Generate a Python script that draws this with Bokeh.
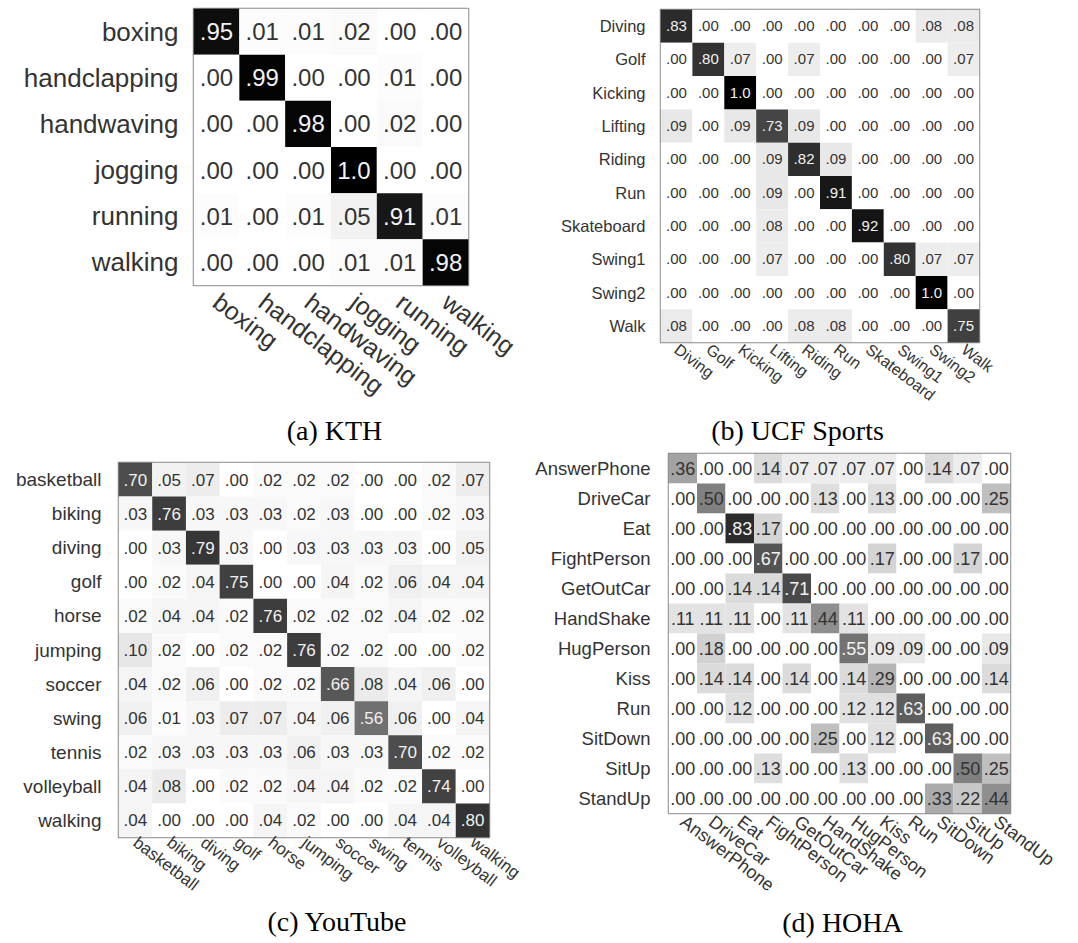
from bokeh.plotting import figure
from bokeh.models import ColumnDataSource, FactorRange, Range1d
from bokeh.layouts import column, row
from bokeh.embed import file_html
from bokeh.resources import INLINE
from bokeh.core.properties import value

# ---------------- data ----------------
kth_labels = ["boxing", "handclapping", "handwaving", "jogging", "running", "walking"]
kth_values = [
    [0.95, 0.01, 0.01, 0.02, 0.00, 0.00],
    [0.00, 0.99, 0.00, 0.00, 0.01, 0.00],
    [0.00, 0.00, 0.98, 0.00, 0.02, 0.00],
    [0.00, 0.00, 0.00, 1.00, 0.00, 0.00],
    [0.01, 0.00, 0.01, 0.05, 0.91, 0.01],
    [0.00, 0.00, 0.00, 0.01, 0.01, 0.98],
]

ucf_labels = ["Diving", "Golf", "Kicking", "Lifting", "Riding", "Run",
              "Skateboard", "Swing1", "Swing2", "Walk"]
ucf_values = [
    [0.83, 0.00, 0.00, 0.00, 0.00, 0.00, 0.00, 0.00, 0.08, 0.08],
    [0.00, 0.80, 0.07, 0.00, 0.07, 0.00, 0.00, 0.00, 0.00, 0.07],
    [0.00, 0.00, 1.00, 0.00, 0.00, 0.00, 0.00, 0.00, 0.00, 0.00],
    [0.09, 0.00, 0.09, 0.73, 0.09, 0.00, 0.00, 0.00, 0.00, 0.00],
    [0.00, 0.00, 0.00, 0.09, 0.82, 0.09, 0.00, 0.00, 0.00, 0.00],
    [0.00, 0.00, 0.00, 0.09, 0.00, 0.91, 0.00, 0.00, 0.00, 0.00],
    [0.00, 0.00, 0.00, 0.08, 0.00, 0.00, 0.92, 0.00, 0.00, 0.00],
    [0.00, 0.00, 0.00, 0.07, 0.00, 0.00, 0.00, 0.80, 0.07, 0.07],
    [0.00, 0.00, 0.00, 0.00, 0.00, 0.00, 0.00, 0.00, 1.00, 0.00],
    [0.08, 0.00, 0.00, 0.00, 0.08, 0.08, 0.00, 0.00, 0.00, 0.75],
]

yt_labels = ["basketball", "biking", "diving", "golf", "horse", "jumping",
             "soccer", "swing", "tennis", "volleyball", "walking"]
yt_values = [
    [0.70, 0.05, 0.07, 0.00, 0.02, 0.02, 0.02, 0.00, 0.00, 0.02, 0.07],
    [0.03, 0.76, 0.03, 0.03, 0.03, 0.02, 0.03, 0.00, 0.00, 0.02, 0.03],
    [0.00, 0.03, 0.79, 0.03, 0.00, 0.03, 0.03, 0.03, 0.03, 0.00, 0.05],
    [0.00, 0.02, 0.04, 0.75, 0.00, 0.00, 0.04, 0.02, 0.06, 0.04, 0.04],
    [0.02, 0.04, 0.04, 0.02, 0.76, 0.02, 0.02, 0.02, 0.04, 0.02, 0.02],
    [0.10, 0.02, 0.00, 0.02, 0.02, 0.76, 0.02, 0.02, 0.00, 0.00, 0.02],
    [0.04, 0.02, 0.06, 0.00, 0.02, 0.02, 0.66, 0.08, 0.04, 0.06, 0.00],
    [0.06, 0.01, 0.03, 0.07, 0.07, 0.04, 0.06, 0.56, 0.06, 0.00, 0.04],
    [0.02, 0.03, 0.03, 0.03, 0.03, 0.06, 0.03, 0.03, 0.70, 0.02, 0.02],
    [0.04, 0.08, 0.00, 0.02, 0.02, 0.04, 0.04, 0.02, 0.02, 0.74, 0.00],
    [0.04, 0.00, 0.00, 0.00, 0.04, 0.02, 0.00, 0.00, 0.04, 0.04, 0.80],
]

hoha_labels = ["AnswerPhone", "DriveCar", "Eat", "FightPerson", "GetOutCar", "HandShake",
               "HugPerson", "Kiss", "Run", "SitDown", "SitUp", "StandUp"]
hoha_values = [
    [0.36, 0.00, 0.00, 0.14, 0.07, 0.07, 0.07, 0.07, 0.00, 0.14, 0.07, 0.00],
    [0.00, 0.50, 0.00, 0.00, 0.00, 0.13, 0.00, 0.13, 0.00, 0.00, 0.00, 0.25],
    [0.00, 0.00, 0.83, 0.17, 0.00, 0.00, 0.00, 0.00, 0.00, 0.00, 0.00, 0.00],
    [0.00, 0.00, 0.00, 0.67, 0.00, 0.00, 0.00, 0.17, 0.00, 0.00, 0.17, 0.00],
    [0.00, 0.00, 0.14, 0.14, 0.71, 0.00, 0.00, 0.00, 0.00, 0.00, 0.00, 0.00],
    [0.11, 0.11, 0.11, 0.00, 0.11, 0.44, 0.11, 0.00, 0.00, 0.00, 0.00, 0.00],
    [0.00, 0.18, 0.00, 0.00, 0.00, 0.00, 0.55, 0.09, 0.09, 0.00, 0.00, 0.09],
    [0.00, 0.14, 0.14, 0.00, 0.14, 0.00, 0.14, 0.29, 0.00, 0.00, 0.00, 0.14],
    [0.00, 0.00, 0.12, 0.00, 0.00, 0.00, 0.12, 0.12, 0.63, 0.00, 0.00, 0.00],
    [0.00, 0.00, 0.00, 0.00, 0.00, 0.25, 0.00, 0.12, 0.00, 0.63, 0.00, 0.00],
    [0.00, 0.00, 0.00, 0.13, 0.00, 0.00, 0.13, 0.00, 0.00, 0.00, 0.50, 0.25],
    [0.00, 0.00, 0.00, 0.00, 0.00, 0.00, 0.00, 0.00, 0.00, 0.33, 0.22, 0.44],
]

captions = ["(a) KTH", "(b) UCF Sports", "(c) YouTube", "(d) HOHA"]

SANS = "Liberation Sans"
SERIF = "Liberation Serif"


def cell_text(v):
    return "1.0" if v >= 0.995 else ("%.2f" % v)[1:]


def gray(v):
    g = int(round(255 * (1 - v)))
    return "#%02x%02x%02x" % (g, g, g)


def matrix_fig(labels, values, width, height, left, right, top, bottom,
               ylabel_size, xlabel_size, cell_size, ystand, xstand):
    xs, ys, fills, texts, tcols = [], [], [], [], []
    for i, rlab in enumerate(labels):
        for j, clab in enumerate(labels):
            v = values[i][j]
            xs.append(clab)
            ys.append(rlab)
            fills.append(gray(v))
            texts.append(cell_text(v))
            tcols.append("#f2f2f2" if v >= 0.53 else "#333333")
    src = ColumnDataSource(dict(x=xs, y=ys, fill=fills, text=texts, tcol=tcols))
    p = figure(width=width, height=height, title=None,
               x_range=FactorRange(*labels), y_range=FactorRange(*labels[::-1]),
               output_backend="svg", toolbar_location=None,
               min_border_left=left, min_border_right=right,
               min_border_top=top, min_border_bottom=bottom)
    p.frame_align = False
    p.rect(x="x", y="y", width=1, height=1, fill_color="fill", line_color=None, source=src)
    p.text(x="x", y="y", text="text", text_color="tcol", text_align="center",
           text_baseline="middle", text_font=value(SANS), text_font_size=cell_size,
           source=src)
    p.outline_line_color = "#8a8a8a"
    p.outline_line_width = 1.5
    p.xgrid.grid_line_color = None
    p.ygrid.grid_line_color = None
    for ax in (p.xaxis[0], p.yaxis[0]):
        ax.axis_line_color = None
        ax.major_tick_line_color = None
        ax.minor_tick_line_color = None
        ax.major_tick_in = 0
        ax.major_tick_out = 0
        ax.major_label_text_font = SANS
        ax.major_label_text_color = "#333333"
    p.yaxis.major_label_text_font_size = ylabel_size
    p.xaxis.major_label_text_font_size = xlabel_size
    p.xaxis.major_label_orientation = -0.65
    p.xaxis.major_label_standoff = xstand
    p.yaxis.major_label_standoff = ystand
    p.background_fill_color = "white"
    p.border_fill_color = "white"
    return p


def caption_fig(text, width, height, x0, y0, cx, cy):
    p = figure(width=width, height=height, title=None,
               x_range=Range1d(x0, x0 + width), y_range=Range1d(y0 + height, y0),
               x_axis_location=None, y_axis_location=None,
               output_backend="svg", toolbar_location=None, min_border=0)
    p.frame_align = False
    p.min_border_left = 0
    p.min_border_right = 0
    p.min_border_top = 0
    p.min_border_bottom = 0
    p.grid.visible = False
    p.outline_line_color = None
    p.text(x=[cx], y=[cy], text=[text], text_font=value(SERIF), text_font_size="28px",
           text_align="center", text_baseline="middle", text_color="black")
    return p


TOP_H = 413
CAP1_H = 448 - TOP_H
BOT_H = 458
CAP2_H = 943 - 448 - BOT_H

fa = matrix_fig(kth_labels, kth_values, 530, TOP_H, 193, 62, 8, TOP_H - 285,
                "26px", "25px", "24px", 15, 13)
fb = matrix_fig(ucf_labels, ucf_values, 548, TOP_H, 130, 99, 9, TOP_H - 343,
                "16.5px", "16px", "15px", 15, 5)
fc = matrix_fig(yt_labels, yt_values, 530, BOT_H, 118, 41, 14, 448 + BOT_H - 837,
                "19px", "17px", "17px", 17, 3)
fd = matrix_fig(hoha_labels, hoha_values, 548, BOT_H, 138, 68, 5, 448 + BOT_H - 813,
                "18.5px", "18px", "18px", 18, 6)

ca = caption_fig(captions[0], 530, CAP1_H, 0, TOP_H, 334, 430)
cb = caption_fig(captions[1], 548, CAP1_H, 530, TOP_H, 797, 430)
cc = caption_fig(captions[2], 530, CAP2_H, 0, 448 + BOT_H, 337, 921)
cd = caption_fig(captions[3], 548, CAP2_H, 530, 448 + BOT_H, 842, 922)

layout = column(row(fa, fb), row(ca, cb), row(fc, fd), row(cc, cd))

open("out.html", "w").write(file_html(layout, INLINE))
